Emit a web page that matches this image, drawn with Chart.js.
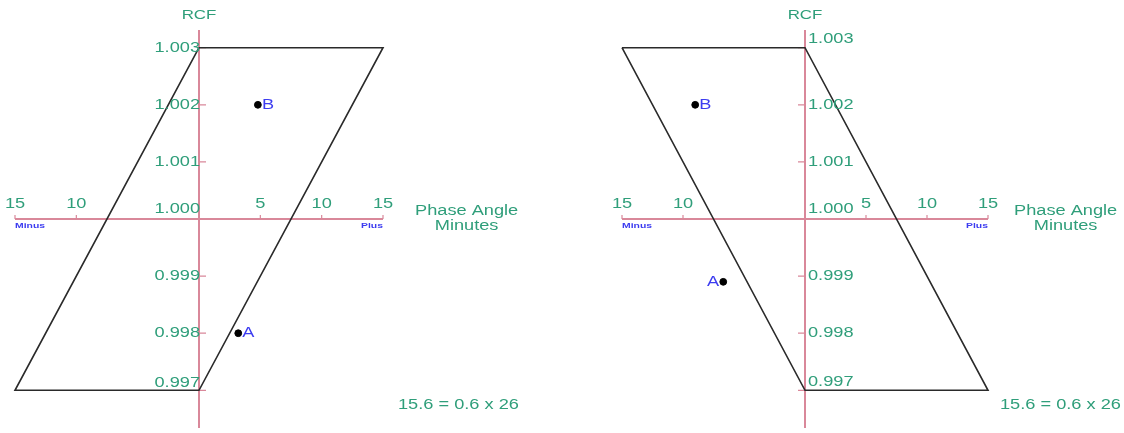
<!DOCTYPE html>
<html>
<head>
<meta charset="utf-8">
<script src="https://cdn.jsdelivr.net/npm/chart.js@4"></script>
<style>
  html, body { margin: 0; padding: 0; background: #fff; }
  #wrap { position: relative; width: 1124px; height: 433px; }
  .box { position: absolute; top: 0; width: 562px; height: 433px; }
</style>
</head>
<body>
<div id="wrap">
  <div class="box" style="left:0"><canvas id="leftChart" width="562" height="433"></canvas></div>
  <div class="box" style="left:562px"><canvas id="rightChart" width="562" height="433"></canvas></div>
</div>
<script>
// phase angle ticks (minutes) and RCF ticks
const phaseTicks = [-15, -10, 5, 10, 15];
const rcfTicks = [0.997, 0.998, 0.999, 1.000, 1.001, 1.002, 1.003];

// parallelogram limits, walked round as a closed line
const leftBoxX = [0, 15, 0, -15, 0];
const leftBoxY = [1.003, 1.003, 0.997, 0.997, 1.003];
const rightBoxX = [-15, 0, 15, 0, -15];
const rightBoxY = [1.003, 1.003, 0.997, 0.997, 1.003];

// measured points
const pointNames = ['A', 'B'];
const leftPointX = [3.2, 4.8];
const leftPointY = [0.998, 1.002];
const rightPointX = [-6.7, -9.0];
const rightPointY = [0.9989, 1.002];

const rcfTitle = 'RCF';
const phaseTitle = ['Phase Angle', 'Minutes'];
const endNames = ['Minus', 'Plus'];
const formula = '15.6 = 0.6 x 26';

const TEAL = '#2f9e7a';
const BLUE = '#3c3cf0';
const PINK = '#d9889a';
const FONT = '"Liberation Sans", Arial, sans-serif';

function wideText(ctx, text, x, y, align) {
    ctx.save();
    ctx.translate(x, y);
    ctx.scale(1.3, 1);
    ctx.textAlign = align;
    ctx.textBaseline = 'middle';
    ctx.fillText(text, 0, 0);
    ctx.restore();
}

const phaseAxes = {
    id: 'phaseAxes',
    beforeDatasetsDraw(chart, args, opts) {
        const ctx = chart.ctx;
        const xs = chart.scales.x;
        const ys = chart.scales.y;
        const x0 = xs.getPixelForValue(0);
        const y0 = ys.getPixelForValue(1.000);
        const dir = opts.side === 'left' ? 1 : -1;

        ctx.save();
        ctx.strokeStyle = PINK;
        ctx.lineWidth = 2;
        ctx.beginPath();
        ctx.moveTo(x0, ys.top);
        ctx.lineTo(x0, ys.bottom);
        ctx.moveTo(xs.left, y0);
        ctx.lineTo(xs.right, y0);
        ctx.stroke();

        ctx.lineWidth = 1.2;
        ctx.beginPath();
        rcfTicks.forEach(v => {
            const py = ys.getPixelForValue(v);
            ctx.moveTo(x0, py);
            ctx.lineTo(x0 + dir * 7, py);
        });
        phaseTicks.forEach(v => {
            const px = xs.getPixelForValue(v);
            ctx.moveTo(px, y0);
            ctx.lineTo(px, y0 - 4);
        });
        ctx.stroke();
        ctx.restore();
    },
    afterDatasetsDraw(chart, args, opts) {
        const ctx = chart.ctx;
        const xs = chart.scales.x;
        const ys = chart.scales.y;
        const x0 = xs.getPixelForValue(0);
        const y0 = ys.getPixelForValue(1.000);

        ctx.save();
        ctx.fillStyle = TEAL;
        ctx.font = '13px ' + FONT;
        wideText(ctx, rcfTitle, x0, 15, 'center');

        ctx.font = '14px ' + FONT;
        rcfTicks.forEach(v => {
            const py = ys.getPixelForValue(v) - (opts.lift[v.toFixed(3)] || 0);
            if (opts.side === 'left') {
                wideText(ctx, v.toFixed(3), x0 + 1, py, 'right');
            } else {
                wideText(ctx, v.toFixed(3), x0 + 3, py, 'left');
            }
        });
        phaseTicks.forEach(v => {
            wideText(ctx, String(Math.abs(v)), xs.getPixelForValue(v), y0 - 15, 'center');
        });

        const tx = xs.right + opts.titleGap;
        wideText(ctx, phaseTitle[0], tx, y0 - 8, 'left');
        const w = ctx.measureText(phaseTitle[0]).width * 1.3;
        wideText(ctx, phaseTitle[1], tx + w / 2, y0 + 7, 'center');

        wideText(ctx, formula, xs.right + opts.formulaGap, ys.getPixelForValue(0.997) + 15, 'left');

        ctx.fillStyle = BLUE;
        ctx.font = 'bold 8px ' + FONT;
        wideText(ctx, endNames[0], xs.left, y0 + 7, 'left');
        wideText(ctx, endNames[1], xs.right, y0 + 7, 'right');

        ctx.font = '14px ' + FONT;
        const pts = chart.data.datasets[1].data;
        pts.forEach((p, i) => {
            const px = xs.getPixelForValue(p.x);
            const py = ys.getPixelForValue(p.y);
            if (opts.nameSide[i] === 'right') {
                wideText(ctx, pointNames[i], px + 4, py, 'left');
            } else {
                wideText(ctx, pointNames[i], px - 4, py, 'right');
            }
        });
        ctx.restore();
    }
};

function makeChart(id, boxX, boxY, ptX, ptY, padding, axisOpts) {
    return new Chart(document.getElementById(id), {
        type: 'scatter',
        data: {
            datasets: [{
                data: boxX.map((x, i) => ({ x: x, y: boxY[i] })),
                showLine: true,
                borderColor: '#2a2a2a',
                borderWidth: 1.6,
                pointRadius: 0,
                fill: false,
                clip: false
            }, {
                data: ptX.map((x, i) => ({ x: x, y: ptY[i] })),
                showLine: false,
                pointRadius: 3.4,
                pointBackgroundColor: '#000',
                pointBorderColor: '#000',
                clip: false
            }]
        },
        options: {
            responsive: false,
            devicePixelRatio: 1,
            animation: false,
            layout: { padding: padding },
            scales: {
                x: { type: 'linear', min: -15, max: 15, display: false },
                y: { type: 'linear', min: 0.99634, max: 1.00331, display: false }
            },
            plugins: {
                legend: { display: false },
                tooltip: { enabled: false },
                phaseAxes: axisOpts
            }
        },
        plugins: [phaseAxes]
    });
}

makeChart('leftChart', leftBoxX, leftBoxY, leftPointX, leftPointY,
    { left: 15, right: 179, top: 30, bottom: 3 },
    { side: 'left', lift: { '1.000': 10, '0.997': 7 }, nameSide: ['right', 'right'], titleGap: 32, formulaGap: 15 });

makeChart('rightChart', rightBoxX, rightBoxY, rightPointX, rightPointY,
    { left: 60, right: 136, top: 30, bottom: 3 },
    { side: 'right', lift: { '1.003': 9, '1.000': 10, '0.997': 8 }, nameSide: ['left', 'right'], titleGap: 26, formulaGap: 12 });
</script>
</body>
</html>
